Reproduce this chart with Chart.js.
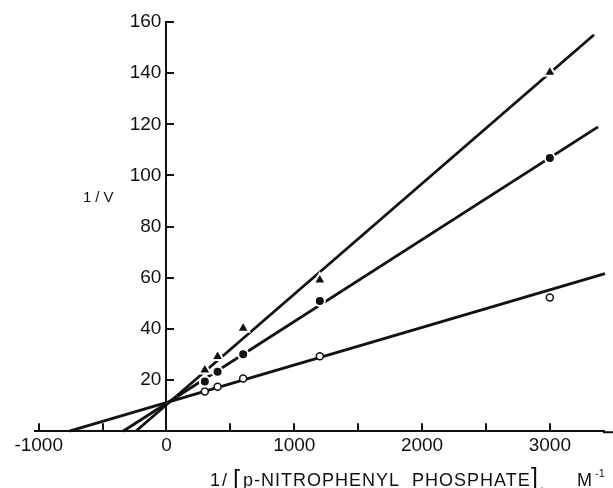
<!DOCTYPE html>
<html>
<head>
<meta charset="utf-8">
<script src="https://cdn.jsdelivr.net/npm/chart.js@4"></script>
<style>
  html, body { margin: 0; padding: 0; background: #fff; }
</style>
</head>
<body>
<canvas id="chart" width="613" height="488"></canvas>
<script>
// 1/[S] values where rates were measured
const substrateInv = [300, 400, 600, 1200, 3000];
// 1/V for the three series
const openVals = [15.5, 17.4, 20.6, 29.3, 52.3];
const filledVals = [19.4, 23.2, 30.1, 50.9, 106.8];
const triangleVals = [23.9, 29.2, 40.3, 59.1, 140.4];

// fitted lines (start at the x intercept, end at the right)
const openLineX = [-760, 3432];
const openLineY = [0, 61.6];
const filledLineX = [-340, 3377];
const filledLineY = [0, 119];
const triangleLineX = [-240, 3346];
const triangleLineY = [0, 155];

const xTicks = [-1000, -500, 0, 500, 1000, 1500, 2000, 2500, 3000];
const xLabels = [-1000, 0, 1000, 2000, 3000];
const yTicks = [20, 40, 60, 80, 100, 120, 140, 160];

const INK = '#111111';
const FONT = 'Liberation Sans, Arial, sans-serif';

function pts(xs, ys) {
  return xs.map((x, i) => ({ x: x, y: ys[i] }));
}

function lineSet(xs, ys) {
  return {
    type: 'line',
    data: pts(xs, ys),
    borderColor: INK,
    borderWidth: 2.8,
    pointRadius: 0,
    fill: false,
    tension: 0,
    clip: false,
    order: 2
  };
}

// y axis line at x = 0, tick marks pointing inward, axis titles
const axisMarks = {
  id: 'axisMarks',
  afterDraw(chart) {
    const { ctx, scales: { x, y } } = chart;
    ctx.save();
    ctx.strokeStyle = INK;
    ctx.lineWidth = 2;
    const x0 = Math.round(x.getPixelForValue(0));
    ctx.beginPath();
    ctx.moveTo(x0, y.getPixelForValue(0));
    ctx.lineTo(x0, y.getPixelForValue(160) - 1);
    // x axis runs on to the right edge of the figure
    ctx.moveTo(x.right - 1, y.bottom + 1);
    ctx.lineTo(chart.width, y.bottom + 1);
    ctx.stroke();
    yTicks.forEach(v => {
      const py = Math.round(y.getPixelForValue(v));
      ctx.beginPath();
      ctx.moveTo(x0, py);
      ctx.lineTo(x0 + 8, py);
      ctx.stroke();
    });
    xTicks.forEach(v => {
      if (v === 0) return;
      const px = Math.round(x.getPixelForValue(v));
      ctx.beginPath();
      ctx.moveTo(px, y.bottom);
      ctx.lineTo(px, y.bottom - 8);
      ctx.stroke();
    });

    ctx.fillStyle = INK;
    ctx.textBaseline = 'alphabetic';
    ctx.textAlign = 'left';
    ctx.font = '15px ' + FONT;
    ctx.letterSpacing = '4px';
    ctx.fillText('1/V', 83, 202);

    ctx.font = '18px ' + FONT;
    ctx.letterSpacing = '2px';
    ctx.fillText('1/', 210, 486);
    ctx.font = '25px ' + FONT;
    ctx.letterSpacing = '0px';
    ctx.fillText('[', 233, 488);
    ctx.font = '18px ' + FONT;
    ctx.letterSpacing = '1px';
    ctx.fillText('p-NITROPHENYL  PHOSPHATE', 243, 486);
    ctx.font = '25px ' + FONT;
    ctx.letterSpacing = '0px';
    ctx.fillText(']', 531, 486);
    ctx.font = '14px ' + FONT;
    ctx.fillText('.', 540, 489);
    ctx.font = '18px ' + FONT;
    ctx.fillText('M', 577, 486);
    ctx.font = '11px ' + FONT;
    ctx.fillText('-1', 595, 477);
    ctx.restore();
  }
};

new Chart(document.getElementById('chart'), {
  type: 'scatter',
  data: {
    datasets: [
      {
        data: pts(substrateInv, triangleVals),
        pointStyle: 'triangle',
        pointRadius: 7,
        backgroundColor: INK,
        borderColor: '#ffffff',
        borderWidth: 2,
        order: 1
      },
      {
        data: pts(substrateInv, filledVals),
        pointStyle: 'circle',
        pointRadius: 5,
        backgroundColor: INK,
        borderColor: '#ffffff',
        borderWidth: 2,
        order: 1
      },
      {
        data: pts(substrateInv, openVals),
        pointStyle: 'circle',
        pointRadius: 3.5,
        backgroundColor: '#ffffff',
        borderColor: INK,
        borderWidth: 1.5,
        order: 1
      },
      lineSet(triangleLineX, triangleLineY),
      lineSet(filledLineX, filledLineY),
      lineSet(openLineX, openLineY)
    ]
  },
  options: {
    responsive: false,
    animation: false,
    layout: { padding: { left: 35, right: 0, top: 22, bottom: 28 } },
    plugins: {
      legend: { display: false },
      tooltip: { enabled: false }
    },
    scales: {
      x: {
        type: 'linear',
        min: -1029,
        max: 3424,
        afterBuildTicks: s => { s.ticks = xTicks.map(v => ({ value: v })); },
        grid: { display: false, drawTicks: false },
        border: { display: true, color: INK, width: 2 },
        ticks: {
          autoSkip: false,
          maxRotation: 0,
          padding: 3,
          color: INK,
          font: { family: FONT, size: 19 },
          callback: v => xLabels.includes(v) ? String(v) : ''
        }
      },
      y: {
        type: 'linear',
        // labels sit a few pixels left of x = 0; the axis line itself is drawn by the plugin
        position: { x: -40 },
        min: 0,
        max: 160,
        afterBuildTicks: s => { s.ticks = yTicks.map(v => ({ value: v })); },
        grid: { display: false, drawTicks: false },
        border: { display: false },
        ticks: {
          color: INK,
          font: { family: FONT, size: 19 },
          callback: v => String(v)
        }
      }
    }
  },
  plugins: [axisMarks]
});
</script>
</body>
</html>
